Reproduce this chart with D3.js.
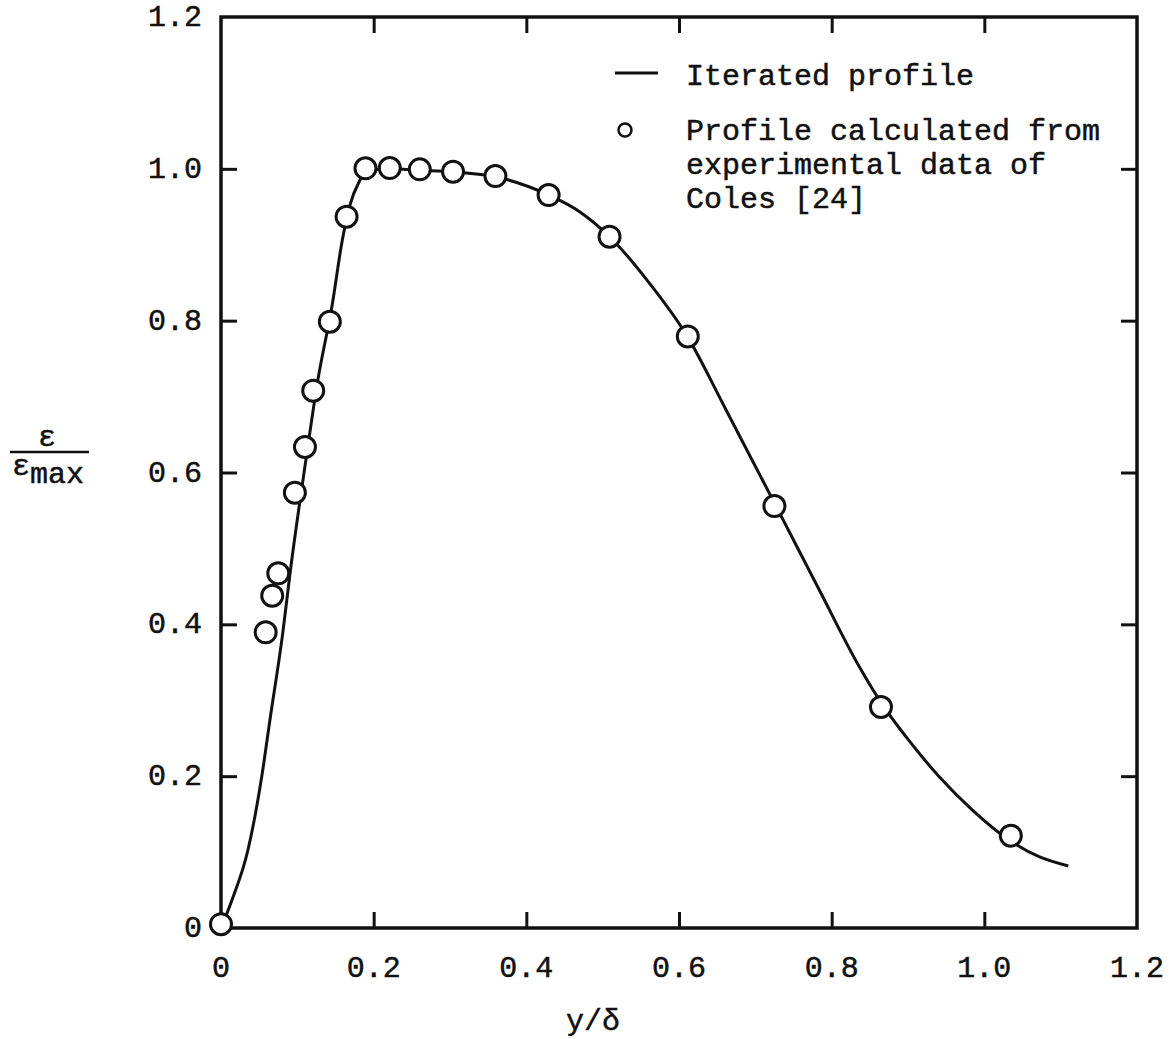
<!DOCTYPE html>
<html>
<head>
<meta charset="utf-8">
<script src="https://cdn.jsdelivr.net/npm/d3@7"></script>
<style>
  html, body { margin: 0; padding: 0; background: #fff; }
  svg { display: block; }
  text { font-family: "Liberation Mono", "Courier New", monospace; fill: #111; stroke: #111; stroke-width: 0.5px; }
</style>
</head>
<body>
<svg id="chart" width="1172" height="1039"></svg>
<script>
// ---- Data ----
// Profile calculated from experimental data of Coles [24] (circles)
const pointX = [0.0, 0.0585, 0.0671, 0.075, 0.0968, 0.110, 0.1208, 0.1426, 0.1645, 0.1893,
                0.2211, 0.2604, 0.304, 0.3595, 0.4292, 0.509, 0.6115, 0.725, 0.8646, 1.0347];
const pointY = [0.005, 0.3895, 0.4377, 0.4672, 0.5734, 0.6336, 0.7077, 0.7986, 0.9369, 1.0007,
                1.001, 0.9993, 0.9962, 0.9905, 0.9655, 0.9106, 0.7792, 0.5558, 0.2911, 0.1216];
// Iterated profile (solid line)
const curveX = [0.0, 0.0144, 0.0353, 0.0537, 0.0641, 0.0811, 0.0905, 0.1112, 0.1269,
                0.1452, 0.1596, 0.1688, 0.1819, 0.190, 0.2211, 0.260, 0.3036, 0.3599, 0.4292,
                0.4698, 0.509, 0.5614, 0.6111, 0.6617, 0.725, 0.7838, 0.8362, 0.868, 0.8973,
                0.9409, 0.9844, 1.0325, 1.0717, 1.110];
const curveY = [0.0, 0.0369, 0.1027, 0.2015, 0.274, 0.390, 0.4676, 0.6164, 0.7218,
                0.818, 0.910, 0.952, 0.985, 0.998, 1.0, 0.998, 0.9958, 0.9895, 0.9655,
                0.9435, 0.9106, 0.8492, 0.779, 0.6823, 0.5598, 0.4452, 0.3442, 0.292, 0.252,
                0.1993, 0.1554, 0.1159, 0.0939, 0.0817];
const xTickValues = [0, 0.2, 0.4, 0.6, 0.8, 1.0, 1.2];
const xTickLabels = ["0", "0.2", "0.4", "0.6", "0.8", "1.0", "1.2"];
const yTickValues = [0, 0.2, 0.4, 0.6, 0.8, 1.0, 1.2];
const yTickLabels = ["0", "0.2", "0.4", "0.6", "0.8", "1.0", "1.2"];
const legendLabels = ["Iterated profile", "Profile calculated from", "experimental data of", "Coles [24]"];
const xTitle = "y/δ";

// ---- Layout ----
const svg = d3.select("#chart");
const plotLeft = 221, plotRight = 1137, plotTop = 17, plotBottom = 928;
const x = d3.scaleLinear().domain([0, 1.2]).range([plotLeft, plotRight]);
const y = d3.scaleLinear().domain([0, 1.2]).range([plotBottom, plotTop]);
const fontSize = 30;
const ink = "#111";

// inner ticks (all four sides)
const inner = [0.2, 0.4, 0.6, 0.8, 1.0];
const tickLen = 16;
function styleAxis(g) {
  g.select(".domain").remove();
  g.selectAll(".tick line").attr("stroke", ink).attr("stroke-width", 3);
  g.selectAll(".tick text").remove();
}
svg.append("g").attr("transform", `translate(0,${plotBottom})`)
  .call(d3.axisBottom(x).tickValues(inner).tickSize(-tickLen)).call(styleAxis);
svg.append("g").attr("transform", `translate(0,${plotTop})`)
  .call(d3.axisTop(x).tickValues(inner).tickSize(-tickLen)).call(styleAxis);
svg.append("g").attr("transform", `translate(${plotLeft},0)`)
  .call(d3.axisLeft(y).tickValues(inner).tickSize(-tickLen)).call(styleAxis);
svg.append("g").attr("transform", `translate(${plotRight},0)`)
  .call(d3.axisRight(y).tickValues(inner).tickSize(-tickLen)).call(styleAxis);

// frame
svg.append("rect")
  .attr("x", x(0)).attr("y", y(1.2))
  .attr("width", x(1.2) - x(0)).attr("height", y(0) - y(1.2))
  .attr("fill", "none").attr("stroke", ink).attr("stroke-width", 3.5);

// tick labels
svg.append("g").selectAll("text").data(xTickValues).join("text")
  .attr("x", d => x(d)).attr("y", 977)
  .attr("text-anchor", "middle").attr("font-size", fontSize)
  .text((d, i) => xTickLabels[i]);
svg.append("g").selectAll("text").data(yTickValues).join("text")
  .attr("x", 202).attr("y", d => y(d) + 9)
  .attr("text-anchor", "end").attr("font-size", fontSize)
  .text((d, i) => yTickLabels[i]);

// axis titles
svg.append("text").attr("x", 593).attr("y", 1030)
  .attr("text-anchor", "middle").attr("font-size", fontSize).text(xTitle);
svg.append("text").attr("x", 47).attr("y", 446)
  .attr("text-anchor", "middle").attr("font-size", fontSize).text("ε");
svg.append("line").attr("x1", 10).attr("x2", 89).attr("y1", 452).attr("y2", 452)
  .attr("stroke", ink).attr("stroke-width", 2.5);
const den = svg.append("text").attr("x", 12).attr("y", 475).attr("font-size", fontSize);
den.append("tspan").text("ε");
den.append("tspan").attr("dy", 8).text("max");

// curve
const curveData = curveX.map((v, i) => [v, curveY[i]]);
svg.append("path").datum(curveData)
  .attr("d", d3.line().x(d => x(d[0])).y(d => y(d[1])).curve(d3.curveMonotoneX))
  .attr("fill", "none").attr("stroke", ink).attr("stroke-width", 3);

// points
const pts = pointX.map((v, i) => [v, pointY[i]]);
svg.append("g").selectAll("circle").data(pts).join("circle")
  .attr("cx", d => x(d[0])).attr("cy", d => y(d[1])).attr("r", 10.5)
  .attr("fill", "#fff").attr("stroke", ink).attr("stroke-width", 3);

// legend
const lg = svg.append("g");
lg.append("line").attr("x1", 615).attr("x2", 658).attr("y1", 73).attr("y2", 73)
  .attr("stroke", ink).attr("stroke-width", 3);
lg.append("circle").attr("cx", 625).attr("cy", 130).attr("r", 6.5)
  .attr("fill", "#fff").attr("stroke", ink).attr("stroke-width", 2.5);
const legendY = [85, 140, 174, 208];
lg.selectAll("text").data(legendLabels).join("text")
  .attr("x", 686).attr("y", (d, i) => legendY[i])
  .attr("font-size", fontSize).text(d => d);
</script>
</body>
</html>
